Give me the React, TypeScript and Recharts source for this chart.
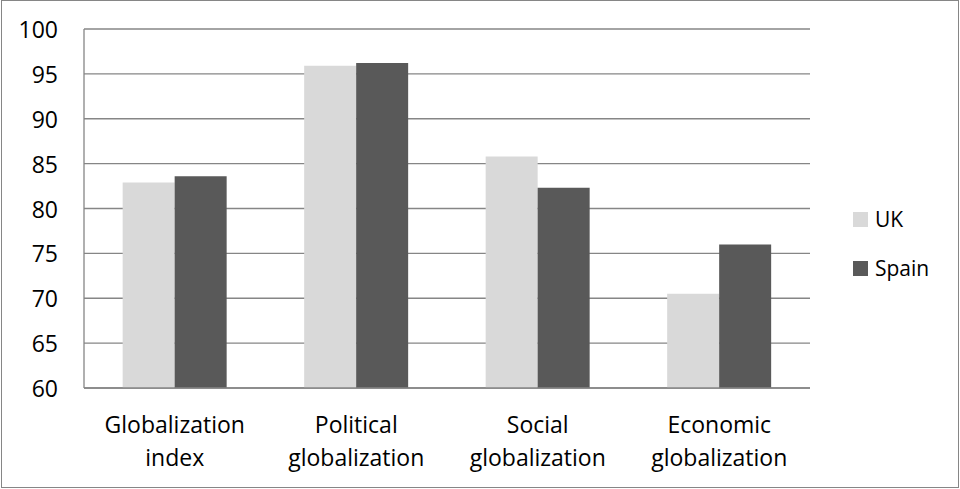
import { BarChart, Bar, XAxis, YAxis, CartesianGrid } from "recharts";

// KOF globalization scores, UK vs Spain
const categories = [
  "Globalization index",
  "Political globalization",
  "Social globalization",
  "Economic globalization",
];
const ukValues = [82.9, 95.9, 85.8, 70.5];
const spainValues = [83.6, 96.2, 82.3, 76.0];
const yTicks = [60, 65, 70, 75, 80, 85, 90, 95, 100];

const FONT = "'Open Sans', sans-serif";
const GRID = "#868686";
const UK_COLOR = "#d9d9d9";
const SPAIN_COLOR = "#595959";

const data = categories.map((name, i) => ({
  name,
  UK: ukValues[i],
  Spain: spainValues[i],
}));

const legendItems = [
  { label: "UK", color: UK_COLOR },
  { label: "Spain", color: SPAIN_COLOR },
];

// category names wrap onto two lines at the space
function CategoryTick(props: any) {
  const { x, y, payload } = props;
  const lines = String(payload.value).split(" ");
  return (
    <g>
      {lines.map((line, i) => (
        <text
          key={i}
          x={x}
          y={y + 28 + i * 33}
          textAnchor="middle"
          dominantBaseline="central"
          fontFamily={FONT}
          fontSize={23}
          fill="#000"
        >
          {line}
        </text>
      ))}
    </g>
  );
}

function ValueTick(props: any) {
  const { y, payload } = props;
  return (
    <text
      x={58}
      y={y}
      textAnchor="end"
      dominantBaseline="central"
      fontFamily={FONT}
      fontSize={23}
      fill="#000"
    >
      {payload.value}
    </text>
  );
}

export default function App() {
  return (
    <div style={{ position: "relative", width: 960, height: 489, background: "#fff" }}>
      <style>{`body{margin:0}`}</style>
      <div
        style={{
          position: "absolute",
          left: 1,
          top: 0,
          width: 956,
          height: 486,
          border: `1px solid ${GRID}`,
          pointerEvents: "none",
        }}
      />
      <BarChart
        width={960}
        height={489}
        data={data}
        margin={{ top: 29, right: 150, bottom: 0, left: 0 }}
        barCategoryGap="21.3%"
        barGap={0}
      >
        <CartesianGrid vertical={false} stroke={GRID} strokeWidth={1.3} />
        <XAxis
          dataKey="name"
          height={101}
          axisLine={{ stroke: GRID, strokeWidth: 1.3 }}
          tickLine={false}
          interval={0}
          tick={<CategoryTick />}
        />
        <YAxis
          width={84}
          domain={[60, 100]}
          ticks={yTicks}
          interval={0}
          allowDataOverflow
          axisLine={{ stroke: GRID, strokeWidth: 1.3 }}
          tickLine={false}
          tick={<ValueTick />}
        />
        <Bar dataKey="UK" fill={UK_COLOR} isAnimationActive={false} />
        <Bar dataKey="Spain" fill={SPAIN_COLOR} isAnimationActive={false} />
      </BarChart>
      <div
        style={{
          position: "absolute",
          left: 853,
          top: 195,
          fontFamily: FONT,
          fontSize: 21,
          color: "#000",
        }}
      >
        {legendItems.map((it) => (
          <div key={it.label} style={{ display: "flex", alignItems: "center", height: 49 }}>
            <span
              style={{
                width: 15,
                height: 15,
                background: it.color,
                display: "inline-block",
                marginRight: 7,
              }}
            />
            <span style={{ lineHeight: "21px" }}>{it.label}</span>
          </div>
        ))}
      </div>
    </div>
  );
}
